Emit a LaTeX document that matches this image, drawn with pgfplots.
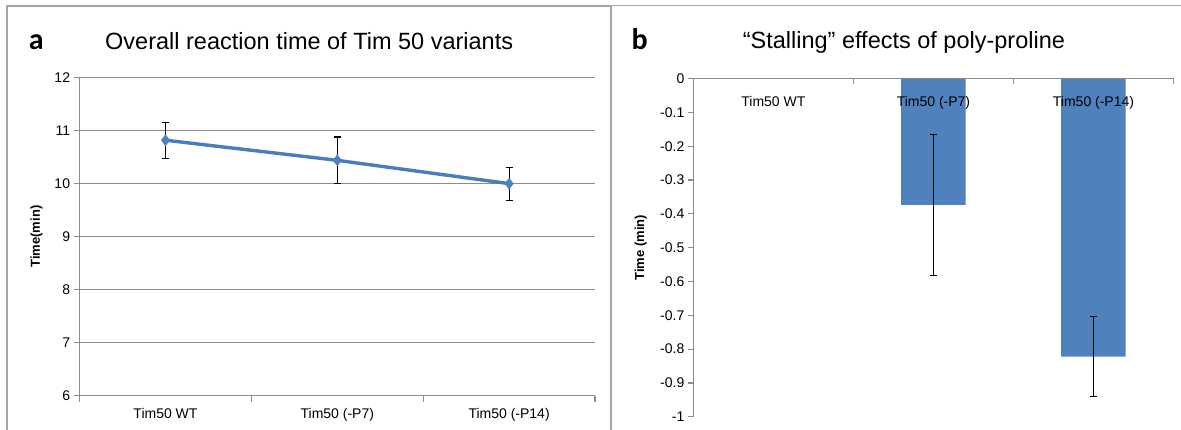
\documentclass[border=0pt]{standalone}
\usepackage{pgfplots}
\pgfplotsset{compat=1.18}
\usepackage{fontspec}
\setmainfont{Liberation Sans}
\newfontfamily\carlito{Carlito}
\definecolor{xlblue}{HTML}{4F81BD}
\definecolor{xlline}{HTML}{4A7EBB}
\definecolor{axgray}{HTML}{8C8C8C}
\definecolor{framegray}{HTML}{A6A6A6}
\begin{document}
\begin{tikzpicture}
\useasboundingbox (0,0) rectangle (1181pt,-430pt);
\fill[white] (0,0) rectangle (1181pt,-430pt);
\draw[framegray, line width=1.5pt] (7pt,-431pt) -- (7pt,-6pt) -- (611pt,-6pt);
\draw[framegray, line width=1.5pt] (611pt,-431pt) -- (611pt,-5.5pt) -- (1182pt,-5.5pt);

\node[anchor=base west, inner sep=0pt, font=\carlito\bfseries\fontsize{30}{34}\selectfont] at (28.7pt,-49.3pt) {a};
\node[anchor=base west, inner sep=0pt, font=\fontsize{23.5}{28}\selectfont] at (105pt,-49.3pt) {Overall reaction time of Tim 50 variants};
\node[anchor=base west, inner sep=0pt, font=\carlito\bfseries\fontsize{30}{34}\selectfont] at (631.5pt,-50pt) {b};
\node[anchor=base west, inner sep=0pt, font=\fontsize{23.5}{28}\selectfont] at (742.6pt,-48.3pt) {“Stalling” effects of poly-proline};

\begin{axis}[
  at={(79.6pt,-395.5pt)}, anchor=south west,
  scale only axis, width=515.4pt, height=317.8pt,
  xmin=-0.5, xmax=2.5, ymin=6, ymax=12,
  axis x line*=bottom, axis y line*=left,
  axis line style={-, axgray, line width=1.2pt},
  xtick={-0.5,0.5,1.5,2.5}, xticklabels={},
  extra x ticks={0,1,2},
  extra x tick labels={Tim50 WT, Tim50 (-P7), Tim50 (-P14)},
  extra x tick style={major tick length=0pt, tick label style={yshift=-9pt}},
  ytick={6,7,8,9,10,11,12},
  tick style={axgray, line width=1.2pt},
  tick align=outside, major tick length=6pt,
  ymajorgrids, grid style={axgray, line width=1.2pt},
  tick label style={font=\fontsize{14}{16}\selectfont},
  /pgf/number format/assume math mode=true,
  ylabel={Time(min)},
  ylabel style={font=\bfseries\fontsize{13}{15}\selectfont, at={(axis description cs:-0.0834,0.5)}, anchor=center},
]
\addplot[xlline, line width=3.4pt, mark=diamond*, mark size=5.5pt,
  mark options={fill=xlblue, draw=xlblue, line width=0.5pt},
  error bars/.cd, y dir=both, y explicit,
  error bar style={black, line width=1.1pt},
  error mark options={black, line width=1.1pt, mark size=3.5pt, rotate=90}]
  coordinates {(0,10.82) +- (0,0.34) (1,10.44) +- (0,0.44) (2,10.0) +- (0,0.31)};
\end{axis}

\begin{axis}[
  at={(693.4pt,-416.7pt)}, anchor=south west,
  scale only axis, width=480.1pt, height=338pt,
  xmin=-0.5, xmax=2.5, ymin=-1, ymax=0,
  axis on top,
  axis x line*=top, axis y line*=left,
  axis line style={-, axgray, line width=1.2pt},
  xtick={-0.5,0.5,1.5,2.5}, xticklabels={},
  x tick style={axgray, line width=1.2pt},
  extra x ticks={0,1,2},
  extra x tick labels={Tim50 WT, Tim50 (-P7), Tim50 (-P14)},
  extra x tick style={major tick length=0pt, tick label style={anchor=north, yshift=-14pt}},
  x tick label style={font=\fontsize{14}{16}\selectfont},
  xtick align=inside, ytick align=outside, major tick length=5.5pt,
  ytick={-1,-0.9,-0.8,-0.7,-0.6,-0.5,-0.4,-0.3,-0.2,-0.1,0},
  yticklabels={-1,-0.9,-0.8,-0.7,-0.6,-0.5,-0.4,-0.3,-0.2,-0.1,0},
  y tick style={axgray, line width=1.2pt},
  y tick label style={font=\fontsize{14}{16}\selectfont},
  ylabel={Time (min)},
  ylabel style={font=\bfseries\fontsize{13}{15}\selectfont, at={(axis description cs:-0.1096,0.5)}, anchor=center},
]
\addplot[ybar, bar width=64.5pt, fill=xlblue, draw=none,
  error bars/.cd, y dir=both, y explicit,
  error bar style={black, line width=1.1pt},
  error mark options={black, line width=1.1pt, mark size=3.5pt, rotate=90}]
  coordinates {(1,-0.373) +- (0,0.208) (2,-0.822) +- (0,0.118)};
\end{axis}
\end{tikzpicture}
\end{document}
